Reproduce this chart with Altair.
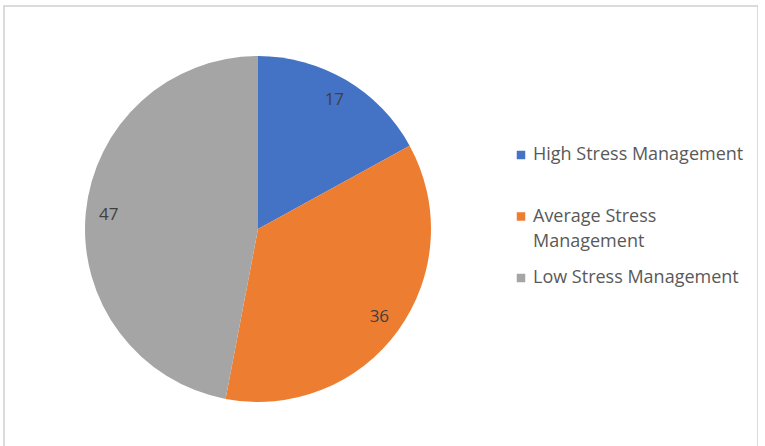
import altair as alt
import pandas as pd

categories = ["High Stress Management", "Average Stress Management", "Low Stress Management"]
legend_labels = ["High Stress Management", "Average Stress\nManagement", "Low Stress Management"]
values = [17, 36, 47]
colors = ["#4472C4", "#ED7D31", "#A5A5A5"]

df = pd.DataFrame({
    "category": categories,
    "legend_label": legend_labels,
    "value": values,
    "idx": list(range(len(values))),
})

color = alt.Color(
    "category:N",
    scale=alt.Scale(domain=categories, range=colors),
    sort=categories,
    legend=None,
)

base = alt.Chart(df).encode(
    theta=alt.Theta("value:Q", stack=True),
    order=alt.Order("idx:Q"),
)

pie = base.mark_arc(outerRadius=173, strokeWidth=0).encode(
    x=alt.value(254), y=alt.value(223),
    color=color,
)

labels = base.mark_text(radius=150, fontSize=17, font="Open Sans", color="#404040").encode(
    x=alt.value(254), y=alt.value(223),
    text=alt.Text("value:Q"),
)

legend_y = alt.Y(
    "category:N",
    sort=categories,
    scale=alt.Scale(type="point", padding=0, domain=categories, range=[149, 272]),
    axis=None,
)

leg_sym = alt.Chart(df).mark_square(size=72, opacity=1).encode(
    x=alt.value(517),
    y=legend_y,
    color=color,
)

leg_txt = alt.Chart(df).mark_text(
    align="left", baseline="middle", fontSize=18, font="Open Sans",
    color="#595959", lineBreak="\n", lineHeight=25,
).encode(
    x=alt.value(529),
    y=legend_y,
    text="legend_label:N",
)

chart = (
    alt.layer(pie, labels, leg_sym, leg_txt)
    .properties(width=754, height=450, padding={"left": 4, "top": 6, "right": 0, "bottom": 0},
                autosize=alt.AutoSizeParams(type="none"))
    .configure_view(stroke="#d0d0d0", strokeWidth=1.5)
)

chart.save("out.html", embed_options={"renderer": "svg", "actions": False})
